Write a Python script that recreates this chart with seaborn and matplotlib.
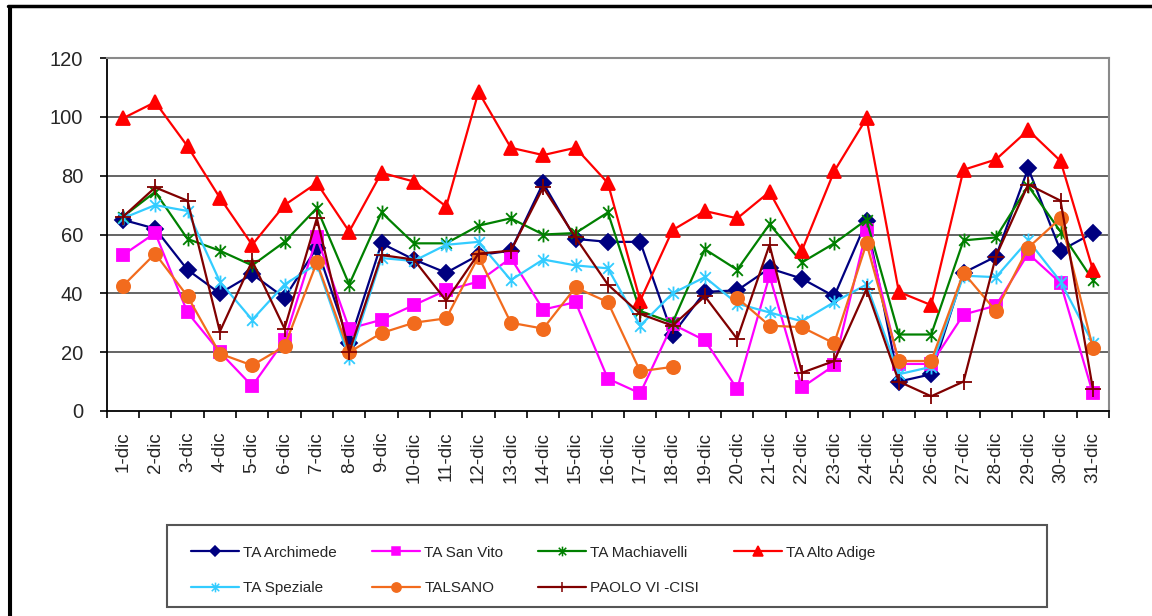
import numpy as np
import matplotlib
matplotlib.use("Agg")
import matplotlib.pyplot as plt
import seaborn as sns
from matplotlib.lines import Line2D
from matplotlib.patches import Rectangle
from matplotlib.path import Path

# Days of December
days = [f"{d}-dic" for d in range(1, 32)]

# Station series
ta_archimede = [65, 62, 48, 40, 46.5, 38.5, 55.5, 23, 57, 51.5, 47, 53, 54.5, 77.5, 58.5, 57.5,
                57.5, 26, 40.5, 41, 48.5, 45, 39, 64.5, 10, 12.5, 47, 52.5, 82.5, 54.5, 60.5]
ta_san_vito = [53, 60.5, 33.5, 20, 8.5, 24, 59, 28, 31, 36, 41, 44, 52, 34.5, 37, 11,
               6, 29.5, 24, 7.5, 46, 8, 15.5, 61.5, 16, 16, 32.8, 35.8, 53.5, 43.5, 6]
ta_machiavelli = [66, 74.5, 58.5, 54.5, 49.5, 57.5, 69, 43, 67.5, 57, 57, 63, 65.5, 60, 60.5, 67.5,
                  34, 30, 55, 48, 63.5, 50.5, 57, 65, 26, 26, 58, 59, 76.5, 61, 44.5]
ta_alto_adige = [99.5, 105, 90, 72.5, 56.5, 70, 77.5, 61, 81, 78, 69.5, 108.5, 89.5, 87, 89.5, 77.5,
                 37.5, 61.5, 68, 65.5, 74.5, 54.5, 81.5, 99.5, 40.5, 36, 82, 85.5, 95.5, 85, 48]
ta_speziale = [65.5, 70, 68, 44, 31, 43, 50, 18, 52, 51, 56.5, 57.5, 44.5, 51.5, 49.5, 48.5,
               29, 40, 45.5, 36.5, 33.5, 30.5, 37, 43, 12.5, 15, 46, 45.5, 58, 44, 23]
talsano = [42.5, 53.5, 39, 19.5, 15.5, 22, 50.5, 20, 26.5, 30, 31.5, 52.5, 30, 28, 42, 37,
           13.5, 15, np.nan, 38.5, 29, 28.5, 23, 57, 17, 17, 47, 34, 55.5, 65.5, 21.5]
paolo_vi = [66, 76, 71.5, 27, 51, 28, 65.5, 20, 53, 51.5, 37.5, 53.5, 54.5, 76, 59, 43,
            33, 29, 39, 24.5, 56.5, 13, 17, 41.5, 10, 5, 10, 52.5, 77, 71.5, 7.5]

y_ticks = [0, 20, 40, 60, 80, 100, 120]

# Excel-like asterisk: an X plus a vertical bar
ASTERISK = Path([(-1, -1), (1, 1), (-1, 1), (1, -1), (0, -1.3), (0, 1.3)],
                [Path.MOVETO, Path.LINETO, Path.MOVETO, Path.LINETO, Path.MOVETO, Path.LINETO])

series = [
    ("TA Archimede", ta_archimede, "#000080", "D", 8),
    ("TA San Vito", ta_san_vito, "#FF00FF", "s", 9),
    ("TA Machiavelli", ta_machiavelli, "#008000", ASTERISK, 10),
    ("TA Alto Adige", ta_alto_adige, "#FF0000", "^", 10),
    ("TA Speziale", ta_speziale, "#33CCFF", ASTERISK, 10),
    ("TALSANO", talsano, "#F26B1D", "o", 9.5),
    ("PAOLO VI -CISI", paolo_vi, "#800000", "+", 11),
]


def runs(values):
    """Split indices into contiguous runs of non-missing values."""
    mask = ~np.isnan(values)
    out, cur = [], []
    for i, ok in enumerate(mask):
        if ok:
            cur.append(i)
        elif cur:
            out.append(cur)
            cur = []
    if cur:
        out.append(cur)
    return out


sns.set_style("white")
plt.rcParams["font.family"] = ["Liberation Sans", "DejaVu Sans"]

fig = plt.figure(figsize=(11.52, 6.16), dpi=100)
ax = fig.add_axes([0.0926, 0.3328, 0.8701, 0.573])

x = np.arange(len(days))
for name, vals, color, marker, ms in series:
    vals = np.asarray(vals, dtype=float)
    for seg in runs(vals):
        sns.lineplot(x=x[seg], y=vals[seg], ax=ax, color=color, lw=1.6,
                     marker=marker, markersize=ms, markeredgecolor=color,
                     markerfacecolor=color, markeredgewidth=1.3, legend=False)

ax.set_xlim(-0.5, len(days) - 0.5)
ax.set_ylim(0, 120)
ax.set_yticks(y_ticks)
ax.set_yticklabels([str(v) for v in y_ticks], fontsize=14.5)
ax.set_xlabel("")
ax.set_ylabel("")

# category boundaries as major ticks, labels at centres
ax.set_xticks(np.arange(-0.5, len(days), 1.0))
ax.set_xticklabels([])
ax.set_xticks(x, minor=True)
ax.set_xticklabels(days, minor=True, rotation=90, fontsize=13.5)
ax.tick_params(axis="x", which="minor", length=0, pad=15)
ax.tick_params(axis="x", which="major", length=5, width=1.2, direction="out", color="black", bottom=True)
ax.tick_params(axis="y", length=5, width=1.2, direction="out", color="black", pad=12, left=True)

for yv in y_ticks[1:-1]:
    ax.axhline(yv, color="#4a4a4a", lw=1.2, zorder=0.5)

for side in ["left", "bottom"]:
    ax.spines[side].set_color("black")
    ax.spines[side].set_linewidth(1.3)
for side in ["top", "right"]:
    ax.spines[side].set_color("#8a8a8a")
    ax.spines[side].set_linewidth(1.5)

# Legend (rows: first four, then last three)
handles = {}
for name, vals, color, marker, ms in series:
    handles[name] = Line2D([], [], color=color, lw=1.6, marker=marker, markersize=ms * 0.7,
                           markeredgecolor=color, markerfacecolor=color, markeredgewidth=1.1)
order = ["TA Archimede", "TA Speziale", "TA San Vito", "TALSANO",
         "TA Machiavelli", "PAOLO VI -CISI", "TA Alto Adige"]
fig.legend([handles[n] for n in order], order, loc="upper left",
           bbox_to_anchor=(0.1595, 0.1266), ncol=4, frameon=False, borderpad=0,
           handlelength=3.1, handletextpad=0.3, columnspacing=2.3, labelspacing=1.4,
           prop={"size": 11})
fig.add_artist(Rectangle((0.145, 0.0146), 0.764, 0.133, transform=fig.transFigure,
                         fill=False, edgecolor="#555555", lw=1.5))

# outer page border
fig.add_artist(Line2D([0.007, 1.0], [0.991, 0.991], transform=fig.transFigure, color="black", lw=2.5))
fig.add_artist(Line2D([0.0075, 0.0075], [0.0, 0.991], transform=fig.transFigure, color="black", lw=2.2))
fig.add_artist(Line2D([0.0098, 0.0098], [0.0, 0.991], transform=fig.transFigure, color="black", lw=0.8))

fig.savefig("out.png", dpi=100)
